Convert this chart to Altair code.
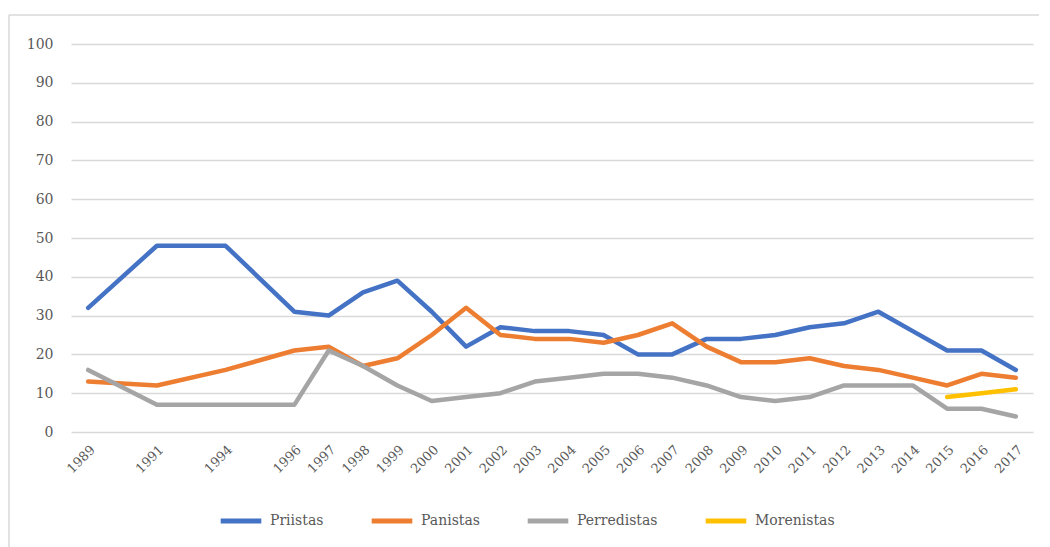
import altair as alt
import pandas as pd

years = ["1989", "1991", "1994", "1996", "1997", "1998", "1999", "2000", "2001", "2002",
         "2003", "2004", "2005", "2006", "2007", "2008", "2009", "2010", "2011", "2012",
         "2013", "2014", "2015", "2016", "2017"]

# category axis with empty slots between non-consecutive survey years
x_domain = ["1989", " ", "1991", "  ", "1994", "   ", "1996", "1997", "1998", "1999", "2000",
            "2001", "2002", "2003", "2004", "2005", "2006", "2007", "2008", "2009", "2010",
            "2011", "2012", "2013", "2014", "2015", "2016", "2017"]

priistas = [32, 48, 48, 31, 30, 36, 39, 31, 22, 27, 26, 26, 25, 20, 20, 24, 24, 25, 27, 28,
            31, 26, 21, 21, 16]
panistas = [13, 12, 16, 21, 22, 17, 19, 25, 32, 25, 24, 24, 23, 25, 28, 22, 18, 18, 19, 17,
            16, 14, 12, 15, 14]
perredistas = [16, 7, 7, 7, 21, 17, 12, 8, 9, 10, 13, 14, 15, 15, 14, 12, 9, 8, 9, 12,
               12, 12, 6, 6, 4]
morenistas_years = ["2015", "2016", "2017"]
morenistas = [9, 10, 11]

series_names = ["Priistas", "Panistas", "Perredistas", "Morenistas"]
series_colors = ["#4472C4", "#ED7D31", "#A5A5A5", "#FFC000"]

rows = []
for name, vals in [("Priistas", priistas), ("Panistas", panistas), ("Perredistas", perredistas)]:
    for y, v in zip(years, vals):
        rows.append({"year": y, "value": v, "serie": name})
for y, v in zip(morenistas_years, morenistas):
    rows.append({"year": y, "value": v, "serie": "Morenistas"})
df = pd.DataFrame(rows)

font = "DejaVu Serif"
gray = "#595959"
frame_color = "#D9D9D9"

lines = alt.Chart(df).mark_line(strokeWidth=4.5, strokeCap="round", strokeJoin="round").encode(
    x=alt.X("year:O", scale=alt.Scale(domain=x_domain, type="point", padding=0.5),
            axis=alt.Axis(title=None, labelAngle=-45, labelFont=font, labelFontSize=13,
                          labelColor=gray, ticks=False, domain=False, grid=False,
                          labelPadding=11)),
    y=alt.Y("value:Q", scale=alt.Scale(domain=[0, 100], nice=False),
            axis=alt.Axis(title=None, values=list(range(0, 101, 10)), labelFont=font,
                          labelFontSize=14, labelColor=gray, ticks=False, domain=False,
                          grid=True, gridColor="#D9D9D9", gridWidth=1.5, labelPadding=18,
                          minExtent=62)),
    color=alt.Color("serie:N", scale=alt.Scale(domain=series_names, range=series_colors),
                    legend=alt.Legend(title=None, orient="none", direction="horizontal",
                                      legendX=147, legendY=454,
                                      symbolType="stroke", symbolSize=1650,
                                      symbolStrokeWidth=5, labelFont=font,
                                      labelFontSize=14, labelColor=gray, columnPadding=37,
                                      labelOffset=6, labelLimit=200)),
    order=alt.Order("year:O"),
)

frame_data = alt.Data(values=[{"k": 0}])
frame_top = alt.Chart(frame_data).mark_rule(color=frame_color, strokeWidth=1.5).encode(
    x=alt.value(-62), x2=alt.value(968), y=alt.value(-29))
frame_left = alt.Chart(frame_data).mark_rule(color=frame_color, strokeWidth=1.5).encode(
    x=alt.value(-62), y=alt.value(-29), y2=alt.value(504))

chart = alt.layer(frame_top, frame_left, lines).properties(
    width=962, height=388,
    padding={"left": 0, "top": 6, "right": 0, "bottom": 0},
).configure_view(stroke=None)

chart.save("out.html", embed_options={"renderer": "svg", "actions": False})
